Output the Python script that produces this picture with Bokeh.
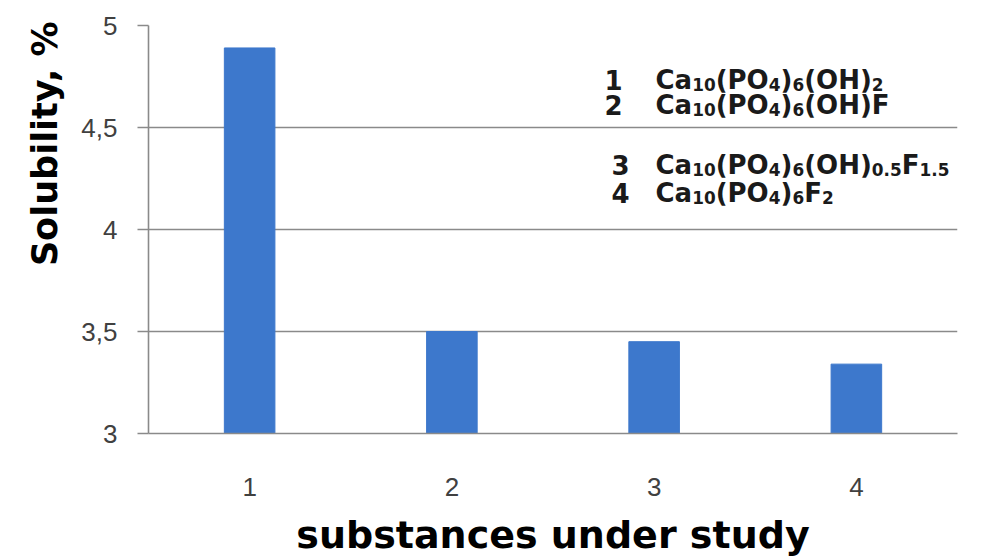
from bokeh.plotting import figure
from bokeh.models import Range1d, FixedTicker, Label, Title
from bokeh.embed import file_html
from bokeh.resources import INLINE

# ---------------- data ----------------
categories = ["1", "2", "3", "4"]
solubility = [4.89, 3.50, 3.45, 3.34]
y_ticks = [3.0, 3.5, 4.0, 4.5, 5.0]
y_tick_labels = ["3", "3,5", "4", "4,5", "5"]
x_title = "substances under study"
y_title = "Solubility, %"
legend_numbers = ["1", "2", "3", "4"]
# (text, is_subscript)
legend_formulas = [
    [("Ca", 0), ("10", 1), ("(PO", 0), ("4", 1), (")", 0), ("6", 1), ("(OH)", 0), ("2", 1)],
    [("Ca", 0), ("10", 1), ("(PO", 0), ("4", 1), (")", 0), ("6", 1), ("(OH)F", 0)],
    [("Ca", 0), ("10", 1), ("(PO", 0), ("4", 1), (")", 0), ("6", 1), ("(OH)", 0),
     ("0.5", 1), ("F", 0), ("1.5", 1)],
    [("Ca", 0), ("10", 1), ("(PO", 0), ("4", 1), (")", 0), ("6", 1), ("F", 0), ("2", 1)],
]

x_pos = [i + 1 for i in range(len(categories))]

# ---------------- layout constants ----------------
W, H = 981, 559
LEFT, RIGHT, TOP, BOTTOM = 148, 24, 25, 126
GRID = "#8a8a8a"
BAR = "#3d78cc"

p = figure(width=W, height=H, output_backend="svg", toolbar_location=None,
           x_range=Range1d(0.5, len(categories) + 0.5), y_range=Range1d(3, 5),
           min_border_left=LEFT, min_border_right=RIGHT,
           min_border_top=TOP, min_border_bottom=BOTTOM)
p.outline_line_color = None
p.background_fill_color = "white"
p.border_fill_color = "white"

p.vbar(x=x_pos, top=solubility, bottom=3, width=0.25,
       fill_color=BAR, line_color=BAR)

# x axis
xa = p.xaxis[0]
xa.ticker = FixedTicker(ticks=x_pos)
xa.major_label_overrides = {x: c for x, c in zip(x_pos, categories)}
xa.major_tick_out = 0
xa.major_tick_in = 0
xa.minor_tick_out = 0
xa.minor_tick_in = 0
xa.axis_line_color = GRID
xa.axis_line_width = 1.6
xa.major_label_standoff = 44
xa.major_label_text_font = "Liberation Sans"
xa.major_label_text_font_size = "26px"
xa.major_label_text_color = "#404040"
xa.axis_label = x_title
xa.axis_label_standoff = 14
xa.axis_label_text_font = "DejaVu Sans"
xa.axis_label_text_font_style = "bold"
xa.axis_label_text_font_size = "38px"
xa.axis_label_text_color = "black"

# y axis
ya = p.yaxis[0]
ya.ticker = FixedTicker(ticks=y_ticks)
ya.major_label_overrides = {t: l for t, l in zip(y_ticks, y_tick_labels)}
ya.major_tick_out = 11
ya.major_tick_in = 0
ya.minor_tick_out = 0
ya.minor_tick_in = 0
ya.axis_line_color = GRID
ya.axis_line_width = 1.6
ya.major_tick_line_color = GRID
ya.major_tick_line_width = 1.6
ya.major_label_standoff = 20
ya.major_label_text_font = "Liberation Sans"
ya.major_label_text_font_size = "26px"
ya.major_label_text_color = "#404040"

# y title as a side-panel title (placed towards the top of the axis)
p.add_layout(Title(text=y_title, align="right", offset=-4,
                   standoff=28, text_font="DejaVu Sans", text_font_style="bold",
                   text_font_size="35px", text_color="black"), "left")

p.xgrid.visible = False
p.ygrid.ticker = FixedTicker(ticks=y_ticks)
p.ygrid.grid_line_color = GRID
p.ygrid.grid_line_width = 1.6

# legend text (screen units relative to the frame's bottom-left)
def sx(px):
    return px - LEFT

def sy(py):
    return (H - BOTTOM) - py

DJ_BOLD = {"C": 0.734, "a": 0.675, "P": 0.733, "O": 0.850, "H": 0.837, "F": 0.683,
           "(": 0.458, ")": 0.458, ".": 0.381, " ": 0.348}
for d in "0123456789":
    DJ_BOLD[d] = 0.696

FS = 26
SUB = 0.65 * FS
SUB_DROP = 0.2 * FS
num_x = [604, 604, 611, 611]
formula_x = [655, 655, 655, 655]
baselines = [79, 104, 164, 192]
TXT = "#1a1a1a"

for num, parts, nx, fx, by in zip(legend_numbers, legend_formulas, num_x, formula_x, baselines):
    p.add_layout(Label(x=sx(nx), y=sy(by), x_units="screen", y_units="screen",
                       text=num, text_font="DejaVu Sans", text_font_style="bold",
                       text_font_size=f"{FS}px", text_color=TXT,
                       text_align="left", text_baseline="alphabetic"))
    cx = fx
    for txt, sub in parts:
        size = SUB if sub else FS
        yy = by + (SUB_DROP if sub else 0)
        p.add_layout(Label(x=sx(cx), y=sy(yy), x_units="screen", y_units="screen",
                           text=txt, text_font="DejaVu Sans", text_font_style="bold",
                           text_font_size=f"{size:.1f}px", text_color=TXT,
                           text_align="left", text_baseline="alphabetic"))
        cx += sum(DJ_BOLD.get(ch, 0.7) for ch in txt) * size

open("out.html", "w").write(file_html(p, INLINE))
